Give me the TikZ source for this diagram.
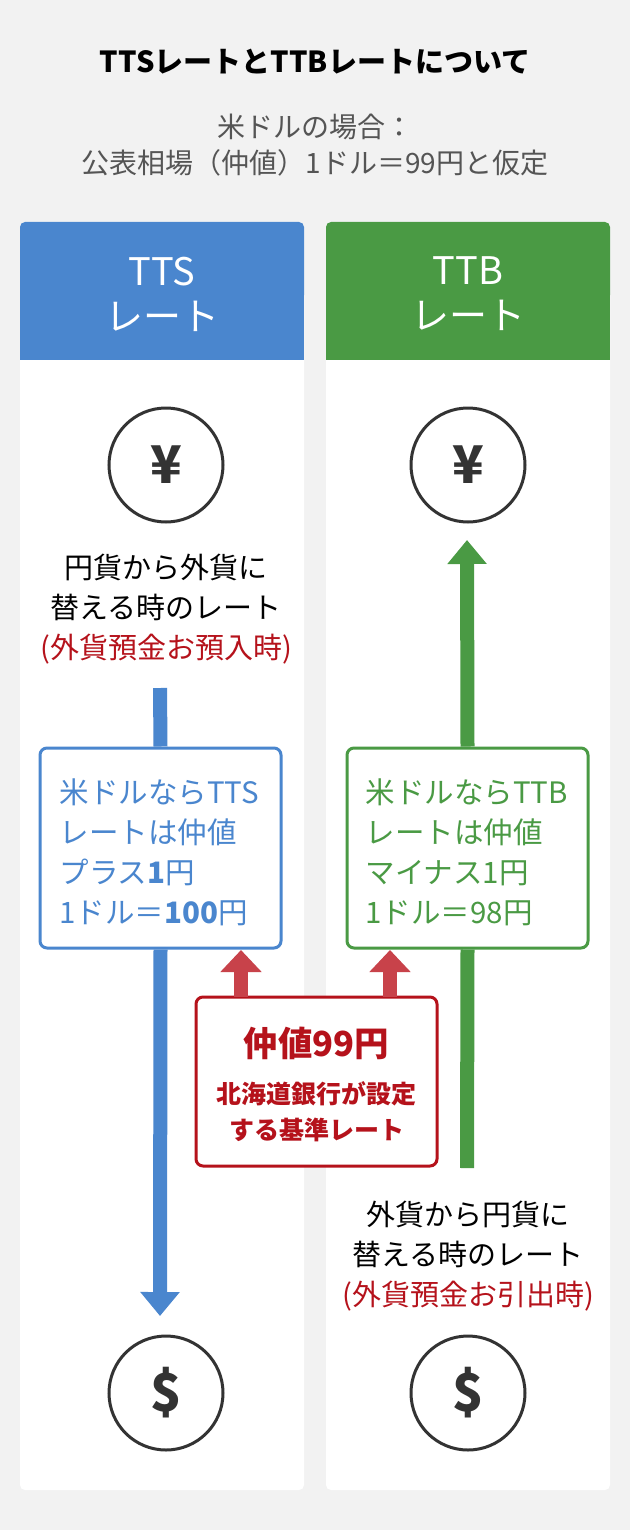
\documentclass[tikz,border=0pt]{standalone}
\usepackage{fontspec}
\setmainfont{Noto Sans CJK JP}
\usetikzlibrary{arrows.meta}
\definecolor{bg}{HTML}{F2F2F2}
\definecolor{tblue}{HTML}{4A86CE}
\definecolor{tgreen}{HTML}{4A9A44}
\definecolor{tred}{HTML}{B5121B}
\definecolor{ared}{HTML}{C8424A}
\definecolor{dark}{HTML}{333333}
\definecolor{gtxt}{HTML}{555555}
\tikzset{
 panel/.style={fill=white,rounded corners=5pt},
 coin/.style={circle,draw=dark,line width=3pt,minimum size=114pt,inner sep=0pt,font=\fontsize{52}{52}\selectfont\bfseries,text=dark},
 body/.style={font=\fontsize{29}{40}\selectfont,align=center,text=black},
 bline/.style={line width=14pt},
 tip/.style={-{Triangle[width=38pt,length=24pt]}},
 rtip/.style={-{Triangle[width=40pt,length=22pt]},line width=14pt,ared},
 infobox/.style={draw,line width=3pt,rounded corners=7pt,fill=white,minimum width=241pt,minimum height=200pt,inner sep=0pt},
 infotext/.style={font=\fontsize{29.5}{40}\selectfont,align=left,anchor=west},
 head/.style={font=\fontsize{38}{45}\selectfont,text=white,align=center}
}
\begin{document}
\begin{tikzpicture}[x=1pt,y=-1pt]
\fill[bg] (0,0) rectangle (630,1530);
\useasboundingbox (0,0) rectangle (630,1530);
\node[font=\fontsize{29}{30}\selectfont\bfseries] (title) at (315,62) {TTSレートとTTBレートについて};
\node[font=\fontsize{28}{36}\selectfont,text=gtxt,align=center] (sub) at (315,145) {米ドルの場合：\\公表相場（仲値）1ドル＝99円と仮定};
% panels
\fill[panel] (20,222) rectangle (304,1490);
\fill[panel] (326,222) rectangle (610,1490);
\fill[tblue,rounded corners=5pt] (20,222) rectangle (304,300);
\fill[tblue] (20,280) rectangle (304,360);
\fill[tgreen,rounded corners=5pt] (326,222) rectangle (610,300);
\fill[tgreen] (326,280) rectangle (610,360);
\node[head] (hl) at (162,294) {TTS\\レート};
\node[head] (hr) at (468,294) {TTB\\レート};
% coins
\node[coin] (yl) at (166,465) {¥};
\node[coin] (yr) at (468,465) {¥};
\node[coin] (dl) at (166,1393) {\$};
\node[coin] (dr) at (468,1393) {\$};
% texts
\node[body] (tl) at (166,609) {円貨から外貨に\\替える時のレート\\\textcolor{tred}{(外貨預金お預入時)}};
\node[body] (tr) at (468,1256) {外貨から円貨に\\替える時のレート\\\textcolor{tred}{(外貨預金お引出時)}};
% boxes
\node[infobox,draw=tblue] (bl) at (160.5,848) {};
\node[infobox,draw=tgreen] (br) at (467.5,848) {};
\node[infotext,text=tblue] at (56,852) {米ドルならTTS\\レートは仲値\\プラス\textbf{1}円\\1ドル＝\textbf{100}円};
\node[infotext,text=tgreen] at (362,852) {米ドルならTTB\\レートは仲値\\マイナス1円\\1ドル＝98円};
% coordinates
\coordinate (la) at (160,688);
\coordinate (lb) at (160,1316);
\coordinate (ra) at (467,540);
\coordinate (rb) at (467,1168);
\draw[bline,tblue] (la) -- (bl.north);
\draw[bline,tblue,tip] (bl.south) -- (lb);
\draw[bline,tgreen,tip] (br.north) -- (ra);
\draw[bline,tgreen] (br.south) -- (rb);
% red box
\node[draw=tred,line width=3pt,rounded corners=7pt,fill=white,minimum width=241pt,minimum height=169pt,inner sep=0pt] (rbox) at (316.5,1081.5) {};
\node[font=\fontsize{34.5}{36}\selectfont\bfseries,text=tred] (mid) at (316.5,1043) {仲値99円};
\node[font=\fontsize{25}{36}\selectfont\bfseries,text=tred,align=center] (midt) at (316.5,1112) {北海道銀行が設定\\する基準レート};
\coordinate (r1) at (241,997);
\coordinate (r2) at (390,997);
\draw[rtip] (r1) -- (241,950);
\draw[rtip] (r2) -- (390,950);
\end{tikzpicture}
\end{document}
